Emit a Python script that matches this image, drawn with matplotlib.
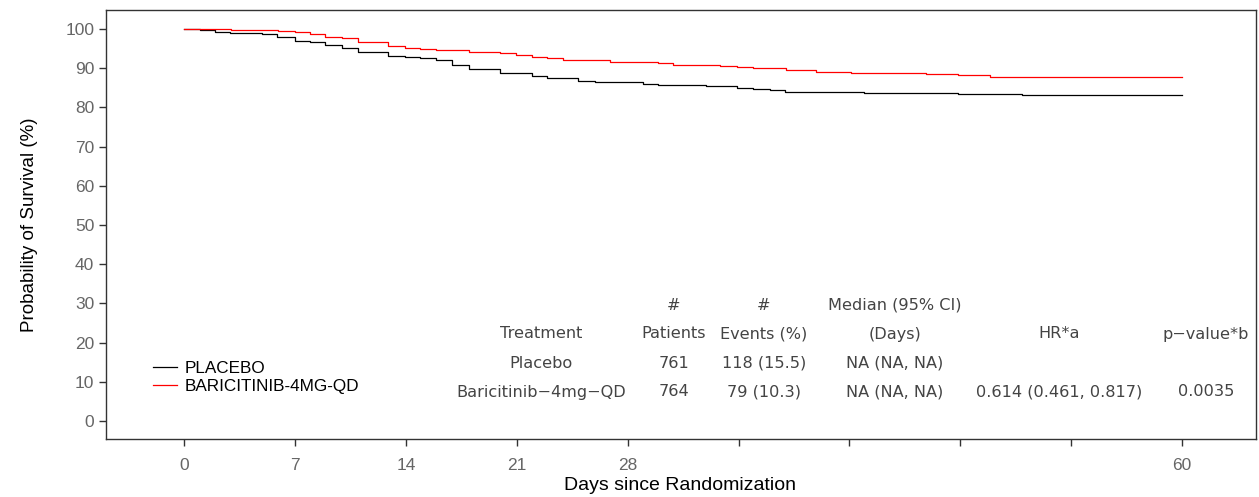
import numpy as np
import matplotlib.pyplot as plt

# ----------------------------
# Data
# ----------------------------
# Kaplan-Meier step points: time (axis units, last point = 60) and survival (%)
placebo_t = [0, 0.96, 1.87, 2.77, 4.69, 5.60, 6.68, 7.58, 8.48, 9.51, 10.47, 12.27,
             13.30, 14.20, 15.16, 16.13, 17.15, 19.01, 20.94, 21.84, 23.71, 24.73,
             27.56, 28.52, 31.35, 33.27, 34.18, 35.20, 36.10, 40.85, 46.51, 50.36, 60]
placebo_s = [100, 99.74, 99.31, 99.06, 98.72, 98.04, 97.02, 96.61, 95.92, 95.23, 94.21,
             93.19, 92.78, 92.52, 92.09, 90.82, 89.72, 88.85, 88.09, 87.42, 86.81, 86.48,
             86.05, 85.64, 85.38, 84.95, 84.62, 84.36, 84.01, 83.75, 83.42, 83.09, 83.09]

bari_t = [0, 2.83, 5.66, 6.68, 7.58, 8.48, 9.51, 10.47, 12.27, 13.30, 14.20, 15.16,
          17.15, 19.01, 19.98, 20.94, 21.84, 22.80, 25.63, 28.52, 29.42, 32.25, 33.27,
          34.18, 36.16, 37.97, 40.07, 44.58, 46.51, 48.44, 60]
bari_s = [100, 99.74, 99.49, 99.16, 98.65, 98.04, 97.63, 96.76, 95.66, 95.23, 94.90,
          94.64, 94.21, 93.80, 93.37, 92.93, 92.53, 92.09, 91.66, 91.25, 90.82, 90.64,
          90.38, 89.97, 89.54, 89.11, 88.85, 88.52, 88.19, 87.83, 87.83]

xtick_labels = ["0", "7", "14", "21", "28", "", "", "", "", "60"]
ytick_vals = list(range(0, 101, 10))

table_rows = [
    ["", "#", "#", "Median (95% CI)", "", ""],
    ["Treatment", "Patients", "Events (%)", "(Days)", "HR*a", "p\u2212value*b"],
    ["Placebo", "761", "118 (15.5)", "NA (NA, NA)", "", ""],
    ["Baricitinib\u22124mg\u2212QD", "764", "79 (10.3)", "NA (NA, NA)",
     "0.614 (0.461, 0.817)", "0.0035"],
]

# ----------------------------
# Figure
# ----------------------------
W, H = 1259, 497
fig = plt.figure(figsize=(W / 100, H / 100), dpi=100)
ax = fig.add_axes([106 / W, 1 - 439 / H, (1256 - 106) / W, (439 - 10) / H])

ax.step(placebo_t, placebo_s, where="post", color="black", lw=0.9, label="PLACEBO")
ax.step(bari_t, bari_s, where="post", color="#ff0000", lw=0.9, label="BARICITINIB-4MG-QD")

ax.set_xlim(-4.7, 64.45)
ax.set_ylim(-4.6, 104.85)

ax.set_xticks(np.linspace(0, 60, 10))
ax.set_xticklabels(xtick_labels)
ax.set_yticks(ytick_vals)

for sp in ax.spines.values():
    sp.set_color("#333333")
    sp.set_linewidth(1.0)

ax.tick_params(axis="both", direction="out", length=5, width=1.0, color="#333333",
               labelcolor="#666666", labelsize=12.5)
ax.tick_params(axis="x", pad=9)
for lab in ax.get_xticklabels() + ax.get_yticklabels():
    lab.set_fontfamily("Liberation Sans")

fig.text(30 / W, 1 - 225 / H, "Probability of Survival (%)", fontsize=13.5,
         family="Liberation Sans", ha="center", va="center", rotation=90)
fig.text(680 / W, 1 - 486 / H, "Days since Randomization", fontsize=14,
         family="Liberation Sans", ha="center", va="center")

leg = ax.legend(loc="upper left", bbox_to_anchor=(144 / W, 1 - 352 / H),
                bbox_transform=fig.transFigure, frameon=False,
                handlelength=1.45, handletextpad=0.4, borderpad=0, labelspacing=0.18,
                prop={"family": "Liberation Sans", "size": 12.3})

# ----------------------------
# Summary table
# ----------------------------
col_x = [541, 674, 764, 895, 1059, 1206]
row_y = [305, 334, 363, 392]
for r, row in enumerate(table_rows):
    for c, txt in enumerate(row):
        if txt:
            fig.text(col_x[c] / W, 1 - row_y[r] / H, txt, ha="center", va="center",
                     fontsize=11.6, color="#444444", family="DejaVu Sans")

fig.savefig("out.png", dpi=100)
